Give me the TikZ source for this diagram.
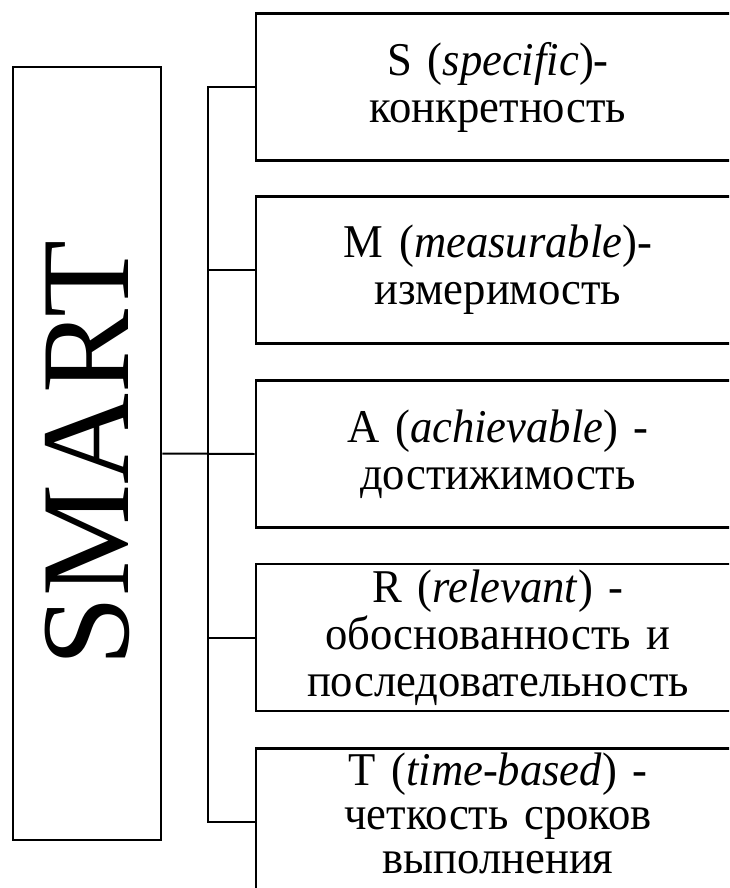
\documentclass[tikz,border=0pt]{standalone}
\usepackage{fontspec}
\setmainfont{Liberation Serif}
\newfontfamily\boxfont[FakeStretch=0.95]{Liberation Serif}
\usepackage{tikz}
\usetikzlibrary{calc}
\tikzset{
	item/.style={draw, line width=0.9mm, rectangle, minimum width=484pt, minimum height=147pt, text width=470pt, align=center, font=\boxfont\fontsize{47}{47}\selectfont},
	itemtext/.style={text width=470pt, align=center, font=\boxfont\fontsize{47}{44}\selectfont},
	head/.style={draw, line width=0.9mm, rectangle, rotate=90, minimum width=773pt, minimum height=148pt, font=\fontsize{126}{126}\selectfont},
	link/.style={line width=0.7mm}
}

\begin{document}
\begin{tikzpicture}[x=1pt, y=-1pt]
		%%%%% START %%%%%
		
		\path[use as bounding box] (0, 0) rectangle (729, 888);
		\clip (0, 0) rectangle (729, 888);
		
		\node[head] (smart) at (87, 453.5) {SMART};
		
		\node[item] (s) at (498, 87) {S (\textit{specific})-\\конкретность};
		\node[item] (m) at (498, 270) {M (\textit{measurable})-\\измеримость};
		\node[item] (a) at (498, 454) {A (\textit{achievable}) -\\достижимость};
		\node[item] (r) at (498, 637.5) {R (\textit{relevant}) -\\обоснованность и\\последовательность};
		\node[item] (t) at (498, 822) {};
		\node[itemtext] (t text) at ($(t.center)+(0, -9)$) {T (\textit{time-based}) -\\четкость сроков\\выполнения};
		
		\coordinate (fork) at (208, 454);
		
		\draw[link] (smart.south) -- (a.west);
		\draw[link] (s.west) -| (fork) |- (t.west);
		\draw[link] (m.west) -- (m.west -| fork);
		\draw[link] (r.west) -- (r.west -| fork);
		
		%%%%% END %%%%%
	\end{tikzpicture}
\end{document}
